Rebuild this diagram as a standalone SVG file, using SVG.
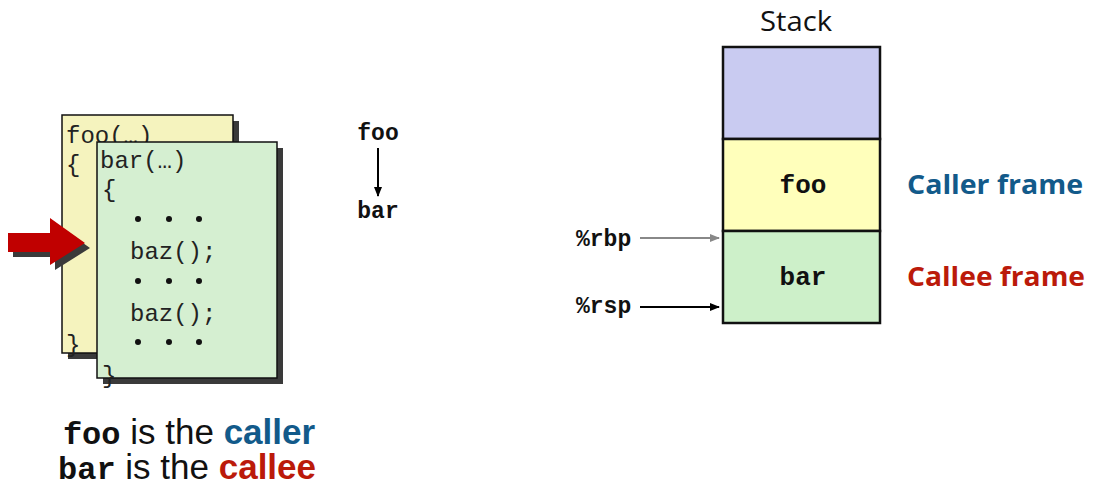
<svg xmlns="http://www.w3.org/2000/svg" width="1094" height="496" viewBox="0 0 1094 496">
<defs>
<style>
.code{font-family:"Liberation Mono","Courier New",monospace;font-size:24px;fill:#222}
.bcode{font-family:"Liberation Mono","Courier New",monospace;font-weight:bold;fill:#111}
.sans{font-family:"Open Sans","Liberation Sans",sans-serif}
.arial{font-family:"Liberation Sans",Arial,sans-serif}
.card{stroke:#111;stroke-width:1.5}
.shadow{fill:#3a3a3a}
.cell{stroke:#111;stroke-width:2.5}
</style>
<marker id="ah" markerWidth="10" markerHeight="8" refX="9" refY="4" orient="auto" markerUnits="userSpaceOnUse">
<path d="M0,0 L10,4 L0,8 Z" fill="#000"/>
</marker>
<marker id="ahg" markerWidth="10" markerHeight="8" refX="9" refY="4" orient="auto" markerUnits="userSpaceOnUse">
<path d="M0,0 L10,4 L0,8 Z" fill="#888"/>
</marker>
</defs>
<rect width="1094" height="496" fill="#fff"/>

<g id="foo-card">
<rect class="shadow" x="68" y="121" width="171" height="238"/>
<rect class="card" x="62" y="115" width="171" height="238" fill="#f5f3be"/>
<text class="code" x="66" y="143">foo(…)</text>
<text class="code" x="66" y="172">{</text>
<text class="code" x="66" y="352">}</text>
</g>

<g id="red-arrow">
<path d="M13,238 L55,238 L55,223 L90,248 L55,270 L55,257 L13,257 Z" fill="#3a3a3a"/>
<path d="M8,233 L50,233 L50,218 L85,243 L50,265 L50,252 L8,252 Z" fill="#c00000"/>
</g>

<g id="bar-card">
<rect class="shadow" x="103" y="148" width="180" height="236"/>
<rect class="card" x="97" y="142" width="180" height="236" fill="#d5efd1"/>
<text class="code" x="100" y="168">bar(…)</text>
<text class="code" x="102" y="197">{</text>
<g fill="#111">
<circle cx="138" cy="219" r="3"/><circle cx="169" cy="219" r="3"/><circle cx="199" cy="219" r="3"/>
<circle cx="138" cy="281" r="3"/><circle cx="169" cy="281" r="3"/><circle cx="199" cy="281" r="3"/>
<circle cx="138" cy="342" r="3"/><circle cx="169" cy="342" r="3"/><circle cx="199" cy="342" r="3"/>
</g>
<text class="code" x="130" y="259">baz();</text>
<text class="code" x="130" y="321">baz();</text>
<text class="code" x="102" y="383">}</text>
</g>

<g id="call-chain">
<text class="bcode" x="378" y="140" font-size="23" text-anchor="middle">foo</text>
<text class="bcode" x="378" y="218" font-size="23" text-anchor="middle">bar</text>
</g>

<g id="stack">
<text class="sans" x="796" y="31" font-size="28" text-anchor="middle" fill="#111" textLength="72" lengthAdjust="spacingAndGlyphs">Stack</text>
<rect class="cell" x="723" y="47" width="157" height="92" fill="#c9cbf1"/>
<rect class="cell" x="723" y="139" width="157" height="92" fill="#ffffbb"/>
<rect class="cell" x="723" y="231" width="157" height="92" fill="#cdf0c9"/>
<text class="bcode" x="803" y="193" font-size="26" text-anchor="middle">foo</text>
<text class="bcode" x="803" y="285" font-size="26" text-anchor="middle">bar</text>
</g>

<g id="frame-labels">
<text class="sans" x="907" y="194" font-size="27" font-weight="bold" fill="#125a8a" textLength="176" lengthAdjust="spacingAndGlyphs">Caller frame</text>
<text class="sans" x="907" y="286" font-size="27" font-weight="bold" fill="#bb1a0a" textLength="178" lengthAdjust="spacingAndGlyphs">Callee frame</text>
</g>

<g id="registers">
<text class="bcode" x="576" y="246" font-size="23">%rbp</text>
<text class="bcode" x="576" y="313" font-size="23">%rsp</text>
</g>

<g id="connectors">
<line x1="378" y1="148" x2="378" y2="196" stroke="#000" stroke-width="2" marker-end="url(#ah)"/>
<line x1="640" y1="238" x2="719" y2="238" stroke="#888" stroke-width="2" marker-end="url(#ahg)"/>
<line x1="640" y1="307" x2="719" y2="307" stroke="#000" stroke-width="2" marker-end="url(#ah)"/>
</g>

<g id="caption">
<text class="arial" x="189" y="444" font-size="35" text-anchor="middle" fill="#111"><tspan class="bcode" font-size="32">foo</tspan> is the <tspan font-weight="bold" fill="#125a8a">caller</tspan></text>
<text class="arial" x="187" y="479" font-size="35" text-anchor="middle" fill="#111"><tspan class="bcode" font-size="32">bar</tspan> is the <tspan font-weight="bold" fill="#bb1a0a">callee</tspan></text>
</g>
</svg>
